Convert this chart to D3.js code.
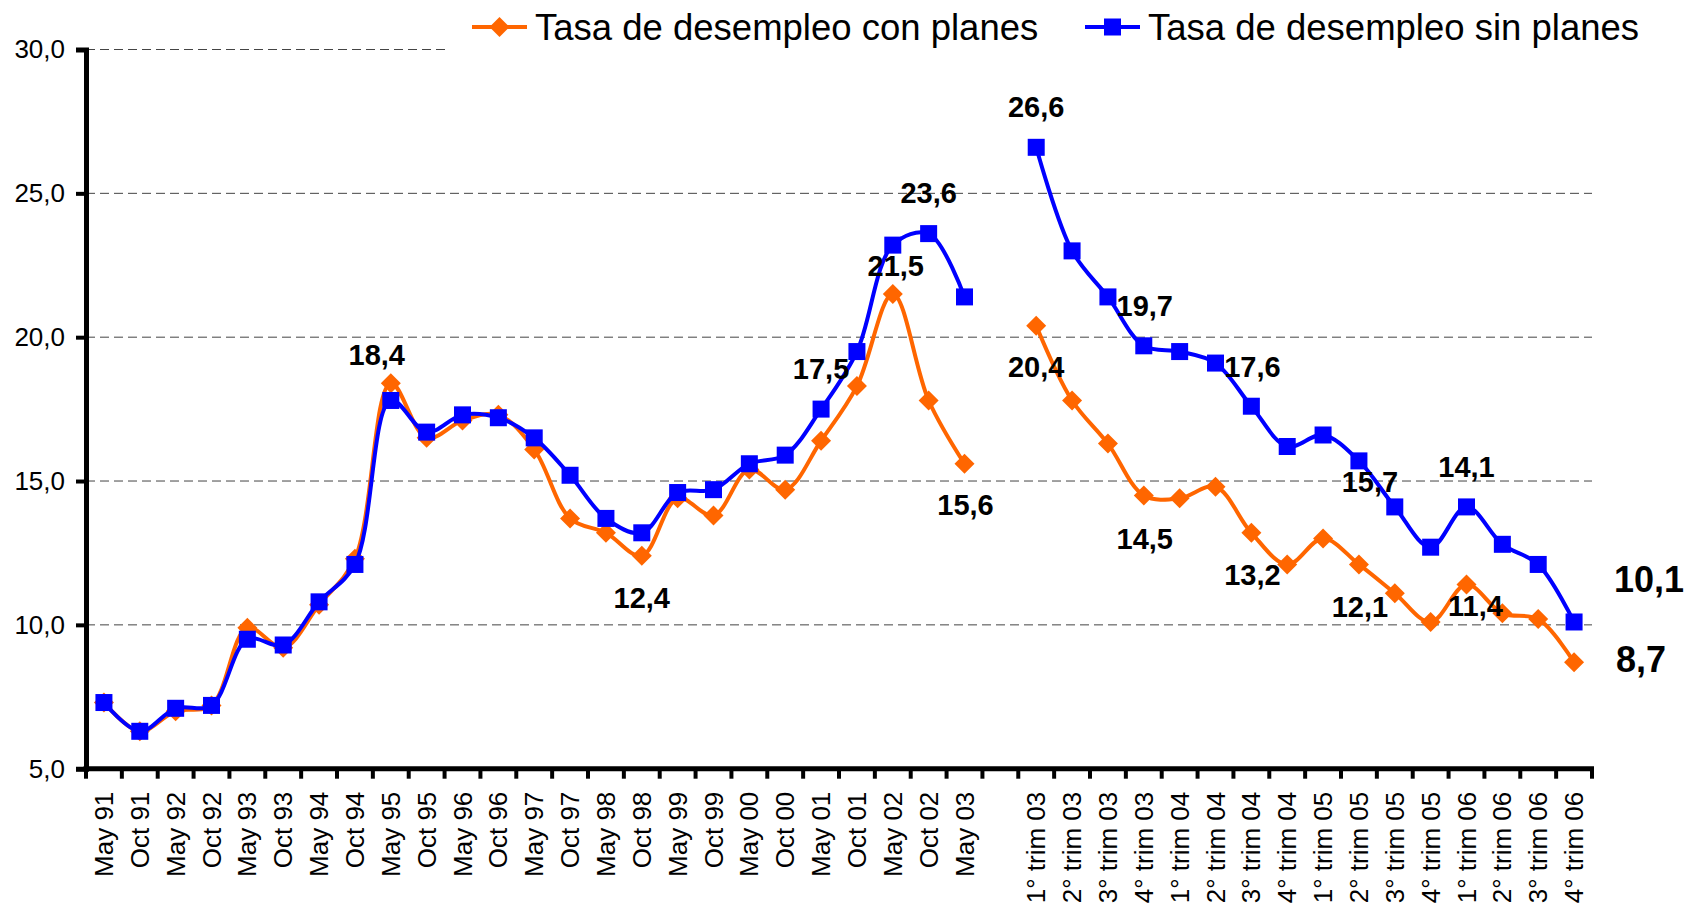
<!DOCTYPE html>
<html>
<head>
<meta charset="utf-8">
<script src="https://cdn.jsdelivr.net/npm/d3@7"></script>
<style>
  body { margin: 0; background: #fff; }
  text { font-family: "Liberation Sans", Arial, sans-serif; }
</style>
</head>
<body>
<div id="chart"></div>
<script>
// categories (blank slot between May 03 and the quarterly series)
const categories = ["May 91","Oct 91","May 92","Oct 92","May 93","Oct 93","May 94","Oct 94",
  "May 95","Oct 95","May 96","Oct 96","May 97","Oct 97","May 98","Oct 98","May 99","Oct 99",
  "May 00","Oct 00","May 01","Oct 01","May 02","Oct 02","May 03","",
  "1° trim 03","2° trim 03","3° trim 03","4° trim 03","1° trim 04","2° trim 04","3° trim 04","4° trim 04",
  "1° trim 05","2° trim 05","3° trim 05","4° trim 05","1° trim 06","2° trim 06","3° trim 06","4° trim 06"];

const conPlanes = [7.3, 6.3, 7.0, 7.2, 9.9, 9.2, 10.7, 12.3, 18.4, 16.5,
  17.1, 17.3, 16.1, 13.7, 13.2, 12.4, 14.4, 13.8, 15.4, 14.7,
  16.4, 18.3, 21.5, 17.8, 15.6, null,
  20.4, 17.8, 16.3, 14.5, 14.4, 14.8, 13.2, 12.1, 13.0, 12.1, 11.1, 10.1, 11.4, 10.4, 10.2, 8.7];

const sinPlanes = [7.3, 6.3, 7.1, 7.2, 9.5, 9.3, 10.8, 12.1, 17.8, 16.7,
  17.3, 17.2, 16.5, 15.2, 13.7, 13.2, 14.6, 14.7, 15.6, 15.9,
  17.5, 19.5, 23.2, 23.6, 21.4, null,
  26.6, 23.0, 21.4, 19.7, 19.5, 19.1, 17.6, 16.2, 16.6, 15.7, 14.1, 12.7, 14.1, 12.8, 12.1, 10.1];

const yTicks = [5, 10, 15, 20, 25, 30];

const seriesNames = ["Tasa de desempleo con planes", "Tasa de desempleo sin planes"];

// which points get a value label: [series, index]
const labelled = [[0, 8], [0, 15], [0, 22], [0, 24], [0, 26], [0, 29], [0, 32], [0, 35], [0, 38], [0, 41],
  [1, 20], [1, 23], [1, 26], [1, 29], [1, 32], [1, 35], [1, 38], [1, 41]];

// label offsets from the point (px), same order as above
const labelOffsets = [[-14, -28], [0, 42], [3, -28], [1, 41], [0, 41], [1, 43], [1, 42], [1, 42], [9, 21], [67, -3],
  [0, -40], [0, -41], [0, -40], [1, -40], [1, -39], [11, 21], [0, -40], [75, -43]];

const W = 1687, H = 907;
const mLeft = 86, mRight = 1592, mTop = 49.5, mBottom = 768.7;
const orange = "#ff6600", blue = "#0000ff";

const svg = d3.select("#chart").append("svg")
  .attr("width", W)
  .attr("height", H);

const x = d3.scaleBand()
  .domain(d3.range(categories.length))
  .range([mLeft, mRight])
  .padding(0);

const y = d3.scaleLinear()
  .domain([5, 30])
  .range([mBottom, mTop]);

const cx = i => x(i) + x.bandwidth() / 2;
const fmt = v => v.toFixed(1).replace(".", ",");

// gridlines
svg.append("g")
  .selectAll("line")
  .data(yTicks.filter(d => d > 5))
  .join("line")
    .attr("x1", mLeft)
    .attr("x2", mRight)
    .attr("y1", d => y(d))
    .attr("y2", d => y(d))
    .attr("stroke", "#444")
    .attr("stroke-width", 1)
    .attr("stroke-dasharray", "9,5");

// y axis
const yAxis = svg.append("g")
  .attr("transform", `translate(${mLeft},0)`)
  .call(d3.axisLeft(y).tickValues(yTicks).tickFormat(fmt).tickSize(10).tickPadding(11));
yAxis.select(".domain").attr("stroke", "#000").attr("stroke-width", 5);
yAxis.selectAll(".tick line").attr("stroke", "#000").attr("stroke-width", 4);
yAxis.selectAll(".tick text")
  .attr("font-size", 26)
  .attr("fill", "#000")
  .style("font-family", "'Liberation Sans', Arial, sans-serif");

// x axis: labels under category centres, ticks at category boundaries
const xAxis = svg.append("g")
  .attr("transform", `translate(0,${mBottom})`)
  .call(d3.axisBottom(x).tickSize(0).tickFormat(i => categories[i]));
xAxis.select(".domain").remove();
xAxis.selectAll(".tick text")
  .attr("transform", "rotate(-90)")
  .attr("x", -23)
  .attr("y", 0)
  .attr("dy", "0.35em")
  .attr("text-anchor", "end")
  .attr("font-size", 26)
  .attr("fill", "#000")
  .style("font-family", "'Liberation Sans', Arial, sans-serif");

svg.append("g")
  .selectAll("line")
  .data(d3.range(categories.length + 1))
  .join("line")
    .attr("x1", i => mLeft + i * x.bandwidth())
    .attr("x2", i => mLeft + i * x.bandwidth())
    .attr("y1", mBottom)
    .attr("y2", mBottom + 10)
    .attr("stroke", "#000")
    .attr("stroke-width", 4);

svg.append("line")
  .attr("x1", mLeft - 2.5)
  .attr("x2", mRight + 2)
  .attr("y1", mBottom)
  .attr("y2", mBottom)
  .attr("stroke", "#000")
  .attr("stroke-width", 5);

// series
const line = d3.line()
  .defined(d => d != null)
  .x((d, i) => cx(i))
  .y(d => y(d))
  .curve(d3.curveCatmullRom.alpha(0.5));

const diamond = s => `M0,${-s}L${s},0L0,${s}L${-s},0Z`;

function drawSeries(values, color, shape) {
  svg.append("path")
    .datum(values)
    .attr("fill", "none")
    .attr("stroke", color)
    .attr("stroke-width", 4)
    .attr("stroke-linejoin", "round")
    .attr("d", line);

  const pts = values.map((v, i) => ({v, i})).filter(d => d.v != null);
  if (shape === "diamond") {
    svg.append("g").selectAll("path")
      .data(pts)
      .join("path")
        .attr("transform", d => `translate(${cx(d.i)},${y(d.v)})`)
        .attr("d", diamond(10))
        .attr("fill", color);
  } else {
    svg.append("g").selectAll("rect")
      .data(pts)
      .join("rect")
        .attr("x", d => cx(d.i) - 8.5)
        .attr("y", d => y(d.v) - 8.5)
        .attr("width", 17)
        .attr("height", 17)
        .attr("fill", color);
  }
}

drawSeries(conPlanes, orange, "diamond");
drawSeries(sinPlanes, blue, "square");

// value labels
const allSeries = [conPlanes, sinPlanes];
svg.append("g")
  .selectAll("text")
  .data(labelled)
  .join("text")
    .attr("x", (d, k) => cx(d[1]) + labelOffsets[k][0])
    .attr("y", (d, k) => y(allSeries[d[0]][d[1]]) + labelOffsets[k][1])
    .attr("dy", "0.35em")
    .attr("text-anchor", "middle")
    .attr("font-weight", "bold")
    .attr("font-size", d => d[1] === categories.length - 1 ? 36 : 29)
    .attr("fill", "#000")
    .text(d => fmt(allSeries[d[0]][d[1]]));

// legend (white box hides the top gridline)
svg.append("rect")
  .attr("x", 447)
  .attr("y", 0)
  .attr("width", W - 447)
  .attr("height", 58)
  .attr("fill", "#fff");

const legendX = [472, 1085];
const legend = svg.append("g")
  .selectAll("g")
  .data(seriesNames)
  .join("g")
    .attr("transform", (d, i) => `translate(${legendX[i]},27)`);

legend.append("line")
  .attr("x1", 0)
  .attr("x2", 55)
  .attr("stroke", (d, i) => i === 0 ? orange : blue)
  .attr("stroke-width", 4);

legend.filter((d, i) => i === 0).append("path")
  .attr("transform", "translate(27.5,0)")
  .attr("d", diamond(10))
  .attr("fill", orange);

legend.filter((d, i) => i === 1).append("rect")
  .attr("x", 19)
  .attr("y", -8.5)
  .attr("width", 17)
  .attr("height", 17)
  .attr("fill", blue);

legend.append("text")
  .attr("x", 63)
  .attr("y", 13)
  .attr("font-size", 36.5)
  .attr("fill", "#000")
  .text(d => d);
</script>
</body>
</html>
